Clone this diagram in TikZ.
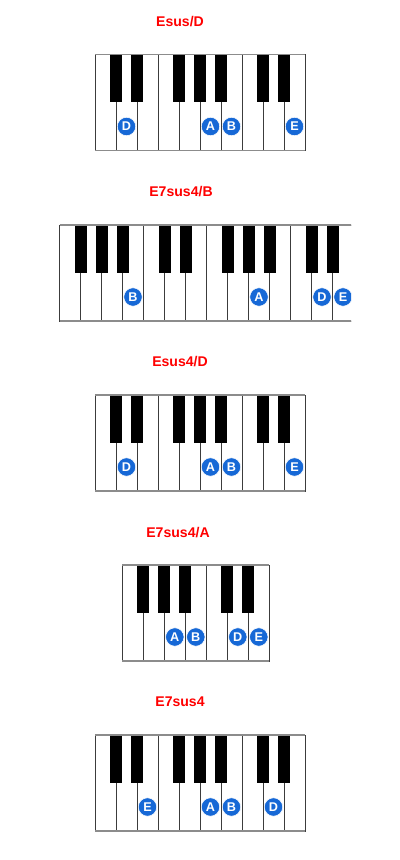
\documentclass[tikz,border=0pt]{standalone}
\usepackage{fontspec}
\setmainfont{Liberation Sans}
\usetikzlibrary{positioning}
\definecolor{chordred}{RGB}{255,0,0}
\definecolor{dotblue}{RGB}{22,104,214}
\definecolor{keyline}{RGB}{60,60,60}
\definecolor{keyrim}{RGB}{140,140,140}

\begin{document}
\begin{tikzpicture}[x=0.025cm, y=-0.025cm,
    chordname/.style={text=chordred, font=\bfseries\fontsize{10}{12}\selectfont},
    whitekey/.style={draw=keyline, line width=0.7pt, fill=white},
    rim/.style={draw=keyrim, line width=1.3pt},
    blackkey/.style={fill=black},
    notedot/.style={circle, fill=dotblue, draw=white, line width=0.4pt, minimum size=0.46cm,
        inner sep=0pt, text=white, font=\bfseries\fontsize{9}{10}\selectfont}]
        \useasboundingbox (0,0) rectangle (400,860);

        % Esus/D
        \node[chordname] (tEsusD) at (180,22) {Esus/D};
        \begin{scope}[shift={(95,54.5)}]
            \foreach \k in {0,...,9}
                \draw[whitekey] (\k*21,0) rectangle ++(21,96);
            \foreach \b in {1,2,4,5,6,8,9}
                \fill[blackkey] (\b*21-6,0) rectangle ++(12,48);
            \draw[rim] (0,0) -- (210,0);
            \draw[rim] (0,96) -- (210,96);
            \node[notedot] (aD) at (1.5*21,72) {D};
            \node[notedot] (aA) at (5.5*21,72) {A};
            \node[notedot] (aB) at (6.5*21,72) {B};
            \node[notedot] (aE) at (9.5*21,72) {E};
        \end{scope}

        % E7sus4/B
        \node[chordname] (tEsevB) at (181,192) {E7sus4/B};
        \begin{scope}[shift={(59.5,225)}]
            \clip (-2,-2) rectangle (291.5,100);
            \foreach \k in {0,...,13}
                \draw[whitekey] (\k*21,0) rectangle ++(21,96);
            \foreach \b in {1,2,3,5,6,8,9,10,12,13}
                \fill[blackkey] (\b*21-6,0) rectangle ++(12,48);
            \draw[rim] (0,0) -- (294,0);
            \draw[rim] (0,96) -- (294,96);
            \node[notedot] (bB) at (3.5*21,72) {B};
            \node[notedot] (bA) at (9.5*21,72) {A};
            \node[notedot] (bD) at (12.5*21,72) {D};
            \node[notedot] (bE) at (13.5*21,72) {E};
        \end{scope}

        % Esus4/D
        \node[chordname] (tEsusfD) at (180,362) {Esus4/D};
        \begin{scope}[shift={(95,395)}]
            \foreach \k in {0,...,9}
                \draw[whitekey] (\k*21,0) rectangle ++(21,96);
            \foreach \b in {1,2,4,5,6,8,9}
                \fill[blackkey] (\b*21-6,0) rectangle ++(12,48);
            \draw[rim] (0,0) -- (210,0);
            \draw[rim] (0,96) -- (210,96);
            \node[notedot] (cD) at (1.5*21,72) {D};
            \node[notedot] (cA) at (5.5*21,72) {A};
            \node[notedot] (cB) at (6.5*21,72) {B};
            \node[notedot] (cE) at (9.5*21,72) {E};
        \end{scope}

        % E7sus4/A
        \node[chordname] (tEsevA) at (178,533) {E7sus4/A};
        \begin{scope}[shift={(122.3,565)}]
            \foreach \k in {0,...,6}
                \draw[whitekey] (\k*21,0) rectangle ++(21,96);
            \foreach \b in {1,2,3,5,6}
                \fill[blackkey] (\b*21-6,0) rectangle ++(12,48);
            \draw[rim] (0,0) -- (147,0);
            \draw[rim] (0,96) -- (147,96);
            \node[notedot] (dA) at (2.5*21,72) {A};
            \node[notedot] (dB) at (3.5*21,72) {B};
            \node[notedot] (dD) at (5.5*21,72) {D};
            \node[notedot] (dE) at (6.5*21,72) {E};
        \end{scope}

        % E7sus4
        \node[chordname] (tEsev) at (180,702) {E7sus4};
        \begin{scope}[shift={(95,735)}]
            \foreach \k in {0,...,9}
                \draw[whitekey] (\k*21,0) rectangle ++(21,96);
            \foreach \b in {1,2,4,5,6,8,9}
                \fill[blackkey] (\b*21-6,0) rectangle ++(12,48);
            \draw[rim] (0,0) -- (210,0);
            \draw[rim] (0,96) -- (210,96);
            \node[notedot] (eE) at (2.5*21,72) {E};
            \node[notedot] (eA) at (5.5*21,72) {A};
            \node[notedot] (eB) at (6.5*21,72) {B};
            \node[notedot] (eD) at (8.5*21,72) {D};
        \end{scope}

    \end{tikzpicture}
\end{document}
